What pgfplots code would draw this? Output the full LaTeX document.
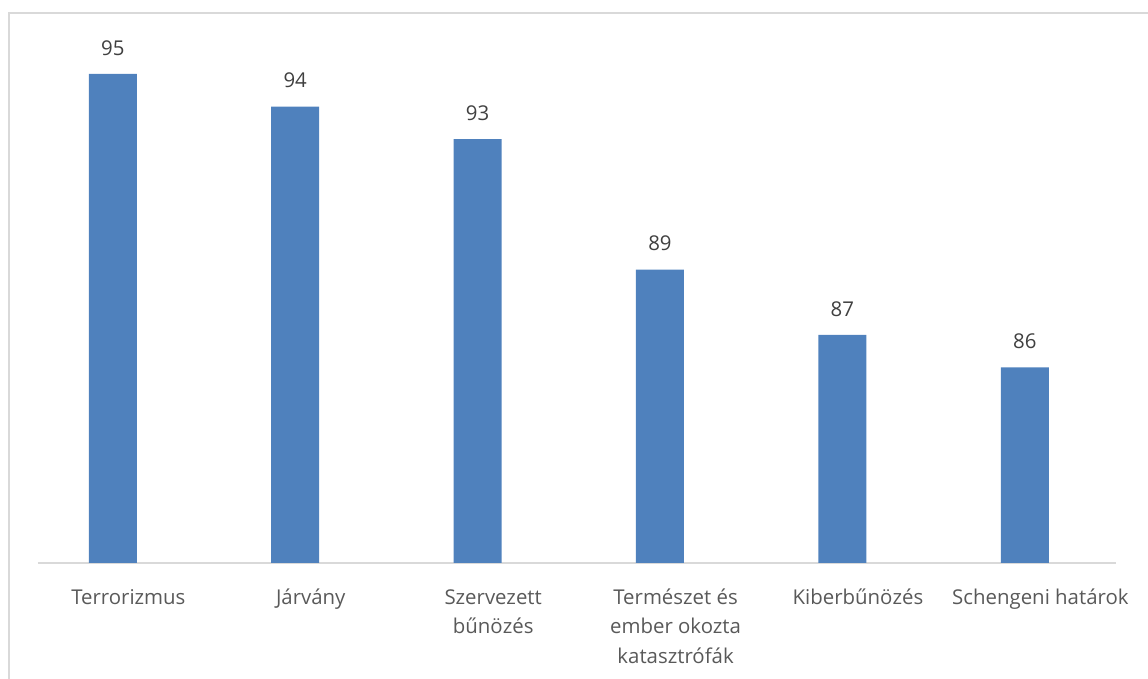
\documentclass[border=0pt]{standalone}
\usepackage{fontspec}
\setmainfont{Open Sans}
\usepackage{pgfplots}
\pgfplotsset{compat=1.18}
\definecolor{barblue}{HTML}{4F81BD}
\definecolor{linegray}{HTML}{D9D9D9}
\definecolor{labgray}{HTML}{595959}
\definecolor{valgray}{HTML}{404040}
\begin{document}
\begin{tikzpicture}
% 1 px of the reference = 0.5pt
\path[use as bounding box] (0,0) rectangle (574pt,339.5pt);
\draw[linegray, line width=0.8pt] (4.5pt,-20pt) -- (4.5pt,333pt) -- (600pt,333pt);
\begin{axis}[
    at={(19pt,58pt)}, anchor=south west,
    x=91.2pt, y=16.3pt,
    xmin=-0.41, xmax=5.5,
    ymin=80, ymax=96.5,
    ybar, bar width=24pt,
    axis x line*=bottom,
    hide y axis,
    x axis line style={draw=linegray, line width=0.8pt},
    xtick=data,
    xtick style={draw=none},
    major tick length=0pt,
    /pgf/number format/assume math mode=true,
    xticklabels={{\strut Terrorizmus},{\strut Járvány},{\strut Szervezett\\bűnözés},{\strut Természet és\\ember okozta\\katasztrófák},{\strut Kiberbűnözés},{\strut Schengeni határok}},
    xticklabel style={anchor=north, inner sep=0pt, yshift=-10pt, xshift=7.8pt, align=center,
        font=\fontsize{10.2}{14.8}\selectfont, text=labgray},
    nodes near coords,
    every node near coord/.append style={anchor=south, inner sep=0pt, yshift=9pt,
        font=\fontsize{10.2}{14.5}\selectfont, text=valgray},
    clip=false,
]
\addplot[fill=barblue, draw=none] coordinates {
    (0,95) (1,94) (2,93) (3,89) (4,87) (5,86)
};
\end{axis}
\end{tikzpicture}
\end{document}
